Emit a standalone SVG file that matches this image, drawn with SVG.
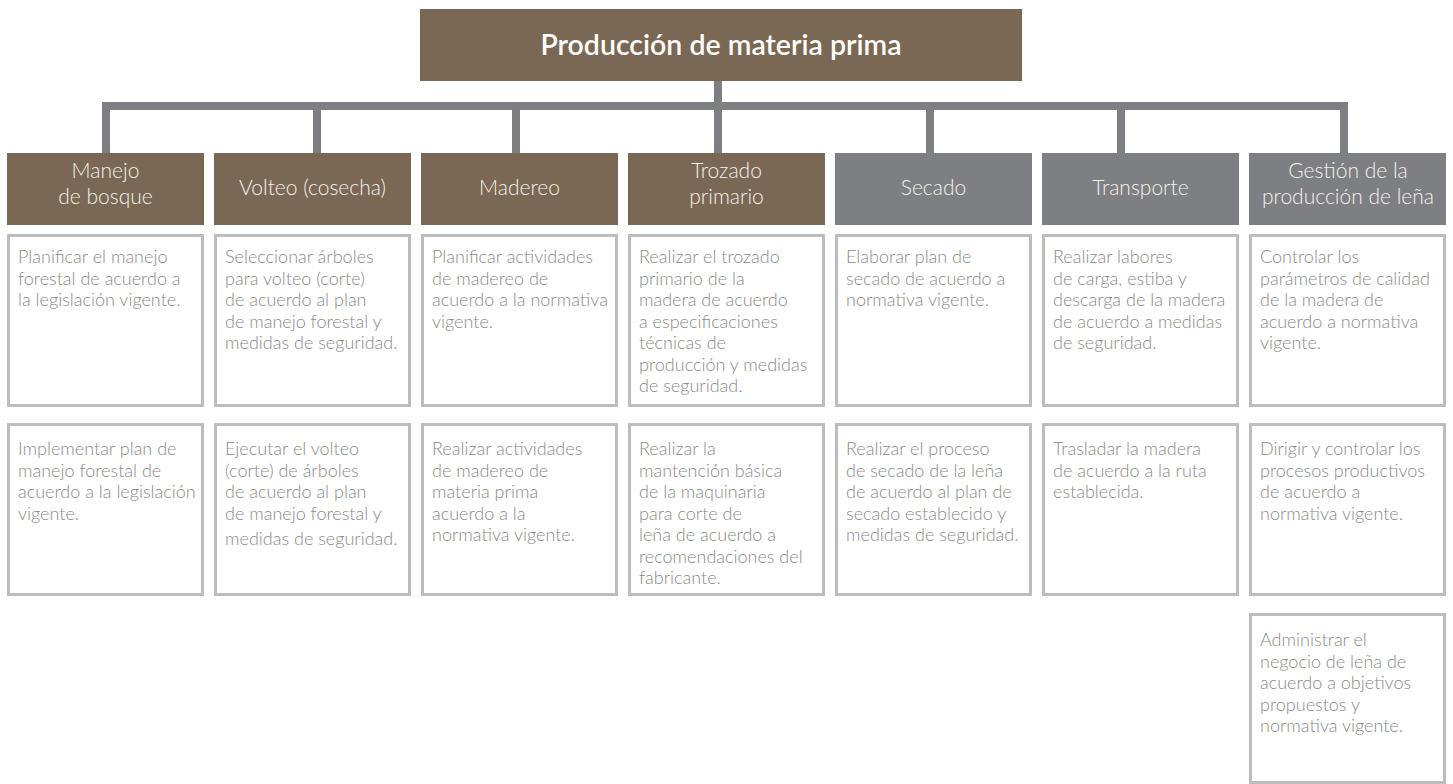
<svg xmlns="http://www.w3.org/2000/svg" width="1453" height="784" viewBox="0 0 1453 784">
<style>
.brown{fill:#7a6854}
.grey{fill:#7e7f82}
.conn{fill:#7e7f82}
.box{fill:#ffffff;stroke:#bdbdbd;stroke-width:3}
.title{font-family:Lato,"Open Sans","Liberation Sans",sans-serif;font-weight:600;font-size:28.5px;fill:#ffffff;text-anchor:middle}
.head{font-family:Lato,"Open Sans","Liberation Sans",sans-serif;font-weight:300;font-size:21px;fill:#f4f1ec;text-anchor:middle}
.txt{font-family:Lato,"Open Sans","Liberation Sans",sans-serif;font-weight:300;font-size:18px;fill:#8a8a8a}
</style>
<rect width="1453" height="784" fill="#ffffff"/>
<g id="connectors">
<rect class="conn" x="714" y="81" width="8" height="29"/>
<rect class="conn" x="102" y="102" width="1246" height="8"/>
<rect class="conn" x="102" y="102" width="8" height="51"/>
<rect class="conn" x="313" y="102" width="8" height="51"/>
<rect class="conn" x="512" y="102" width="8" height="51"/>
<rect class="conn" x="714" y="102" width="8" height="51"/>
<rect class="conn" x="926" y="102" width="8" height="51"/>
<rect class="conn" x="1117" y="102" width="8" height="51"/>
<rect class="conn" x="1340" y="102" width="8" height="51"/>
</g>
<g id="root">
<rect class="brown" x="420" y="9" width="602" height="72"/>
<text class="title" x="721" y="55">Producción de materia prima</text>
</g>
<g id="h1"><rect class="brown" x="7" y="153" width="197" height="72"/><text class="head" y="178"><tspan x="105.5">Manejo</tspan><tspan x="105.5" dy="26">de bosque</tspan></text></g>
<g id="h2"><rect class="brown" x="214" y="153" width="197" height="72"/><text class="head" x="312.5" y="195">Volteo (cosecha)</text></g>
<g id="h3"><rect class="brown" x="421" y="153" width="197" height="72"/><text class="head" x="519.5" y="195">Madereo</text></g>
<g id="h4"><rect class="brown" x="628" y="153" width="197" height="72"/><text class="head" y="178"><tspan x="726.5">Trozado</tspan><tspan x="726.5" dy="26">primario</tspan></text></g>
<g id="h5"><rect class="grey" x="835" y="153" width="197" height="72"/><text class="head" x="933.5" y="195">Secado</text></g>
<g id="h6"><rect class="grey" x="1042" y="153" width="197" height="72"/><text class="head" x="1140.5" y="195">Transporte</text></g>
<g id="h7"><rect class="grey" x="1249" y="153" width="197" height="72"/><text class="head" y="178"><tspan x="1348">Gestión de la</tspan><tspan x="1348" dy="26">producción de leña</tspan></text></g>

<g id="c1r1"><rect class="box" x="8.5" y="235.5" width="194" height="170"/><text class="txt" y="263"><tspan x="18">Planificar el manejo</tspan><tspan x="18" dy="21.5">forestal de acuerdo a</tspan><tspan x="18" dy="21.5">la legislación vigente.</tspan></text></g>
<g id="c1r2"><rect class="box" x="8.5" y="424.5" width="194" height="170"/><text class="txt" y="455"><tspan x="18">Implementar plan de</tspan><tspan x="18" dy="21.5">manejo forestal de</tspan><tspan x="18" dy="21.5">acuerdo a la legislación</tspan><tspan x="18" dy="21.5">vigente.</tspan></text></g>

<g id="c2r1"><rect class="box" x="215.5" y="235.5" width="194" height="170"/><text class="txt" y="263"><tspan x="225">Seleccionar árboles</tspan><tspan x="225" dy="21.5">para volteo (corte)</tspan><tspan x="225" dy="21.5">de acuerdo al plan</tspan><tspan x="225" dy="21.5">de manejo forestal y</tspan><tspan x="225" dy="21.5">medidas de seguridad.</tspan></text></g>
<g id="c2r2"><rect class="box" x="215.5" y="424.5" width="194" height="170"/><text class="txt" y="455"><tspan x="225">Ejecutar el volteo</tspan><tspan x="225" dy="21.5">(corte) de árboles</tspan><tspan x="225" dy="21.5">de acuerdo al plan</tspan><tspan x="225" dy="21.5">de manejo forestal y</tspan><tspan x="225" dy="25.5">medidas de seguridad.</tspan></text></g>

<g id="c3r1"><rect class="box" x="422.5" y="235.5" width="194" height="170"/><text class="txt" y="263"><tspan x="432">Planificar actividades</tspan><tspan x="432" dy="21.5">de madereo de</tspan><tspan x="432" dy="21.5">acuerdo a la normativa</tspan><tspan x="432" dy="21.5">vigente.</tspan></text></g>
<g id="c3r2"><rect class="box" x="422.5" y="424.5" width="194" height="170"/><text class="txt" y="455"><tspan x="432">Realizar actividades</tspan><tspan x="432" dy="21.5">de madereo de</tspan><tspan x="432" dy="21.5">materia prima</tspan><tspan x="432" dy="21.5">acuerdo a la</tspan><tspan x="432" dy="21.5">normativa vigente.</tspan></text></g>

<g id="c4r1"><rect class="box" x="629.5" y="235.5" width="194" height="170"/><text class="txt" y="263"><tspan x="639">Realizar el trozado</tspan><tspan x="639" dy="21.5">primario de la</tspan><tspan x="639" dy="21.5">madera de acuerdo</tspan><tspan x="639" dy="21.5">a especificaciones</tspan><tspan x="639" dy="21.5">técnicas de</tspan><tspan x="639" dy="21.5">producción y medidas</tspan><tspan x="639" dy="21.5">de seguridad.</tspan></text></g>
<g id="c4r2"><rect class="box" x="629.5" y="424.5" width="194" height="170"/><text class="txt" y="455"><tspan x="639">Realizar la</tspan><tspan x="639" dy="21.5">mantención básica</tspan><tspan x="639" dy="21.5">de la maquinaria</tspan><tspan x="639" dy="21.5">para corte de</tspan><tspan x="639" dy="21.5">leña de acuerdo a</tspan><tspan x="639" dy="21.5">recomendaciones del</tspan><tspan x="639" dy="21.5">fabricante.</tspan></text></g>

<g id="c5r1"><rect class="box" x="836.5" y="235.5" width="194" height="170"/><text class="txt" y="263"><tspan x="846">Elaborar plan de</tspan><tspan x="846" dy="21.5">secado de acuerdo a</tspan><tspan x="846" dy="21.5">normativa vigente.</tspan></text></g>
<g id="c5r2"><rect class="box" x="836.5" y="424.5" width="194" height="170"/><text class="txt" y="455"><tspan x="846">Realizar el proceso</tspan><tspan x="846" dy="21.5">de secado de la leña</tspan><tspan x="846" dy="21.5">de acuerdo al plan de</tspan><tspan x="846" dy="21.5">secado establecido y</tspan><tspan x="846" dy="21.5">medidas de seguridad.</tspan></text></g>

<g id="c6r1"><rect class="box" x="1043.5" y="235.5" width="194" height="170"/><text class="txt" y="263"><tspan x="1053">Realizar labores</tspan><tspan x="1053" dy="21.5">de carga, estiba y</tspan><tspan x="1053" dy="21.5">descarga de la madera</tspan><tspan x="1053" dy="21.5">de acuerdo a medidas</tspan><tspan x="1053" dy="21.5">de seguridad.</tspan></text></g>
<g id="c6r2"><rect class="box" x="1043.5" y="424.5" width="194" height="170"/><text class="txt" y="455"><tspan x="1053">Trasladar la madera</tspan><tspan x="1053" dy="21.5">de acuerdo a la ruta</tspan><tspan x="1053" dy="21.5">establecida.</tspan></text></g>

<g id="c7r1"><rect class="box" x="1250.5" y="235.5" width="194" height="170"/><text class="txt" y="263"><tspan x="1260">Controlar los</tspan><tspan x="1260" dy="21.5">parámetros de calidad</tspan><tspan x="1260" dy="21.5">de la madera de</tspan><tspan x="1260" dy="21.5">acuerdo a normativa</tspan><tspan x="1260" dy="21.5">vigente.</tspan></text></g>
<g id="c7r2"><rect class="box" x="1250.5" y="424.5" width="194" height="170"/><text class="txt" y="455"><tspan x="1260">Dirigir y controlar los</tspan><tspan x="1260" dy="21.5">procesos productivos</tspan><tspan x="1260" dy="21.5">de acuerdo a</tspan><tspan x="1260" dy="21.5">normativa vigente.</tspan></text></g>
<g id="c7r3"><rect class="box" x="1250.5" y="614.5" width="194" height="168"/><text class="txt" y="646"><tspan x="1260">Administrar el</tspan><tspan x="1260" dy="21.5">negocio de leña de</tspan><tspan x="1260" dy="21.5">acuerdo a objetivos</tspan><tspan x="1260" dy="21.5">propuestos y</tspan><tspan x="1260" dy="21.5">normativa vigente.</tspan></text></g>
</svg>
